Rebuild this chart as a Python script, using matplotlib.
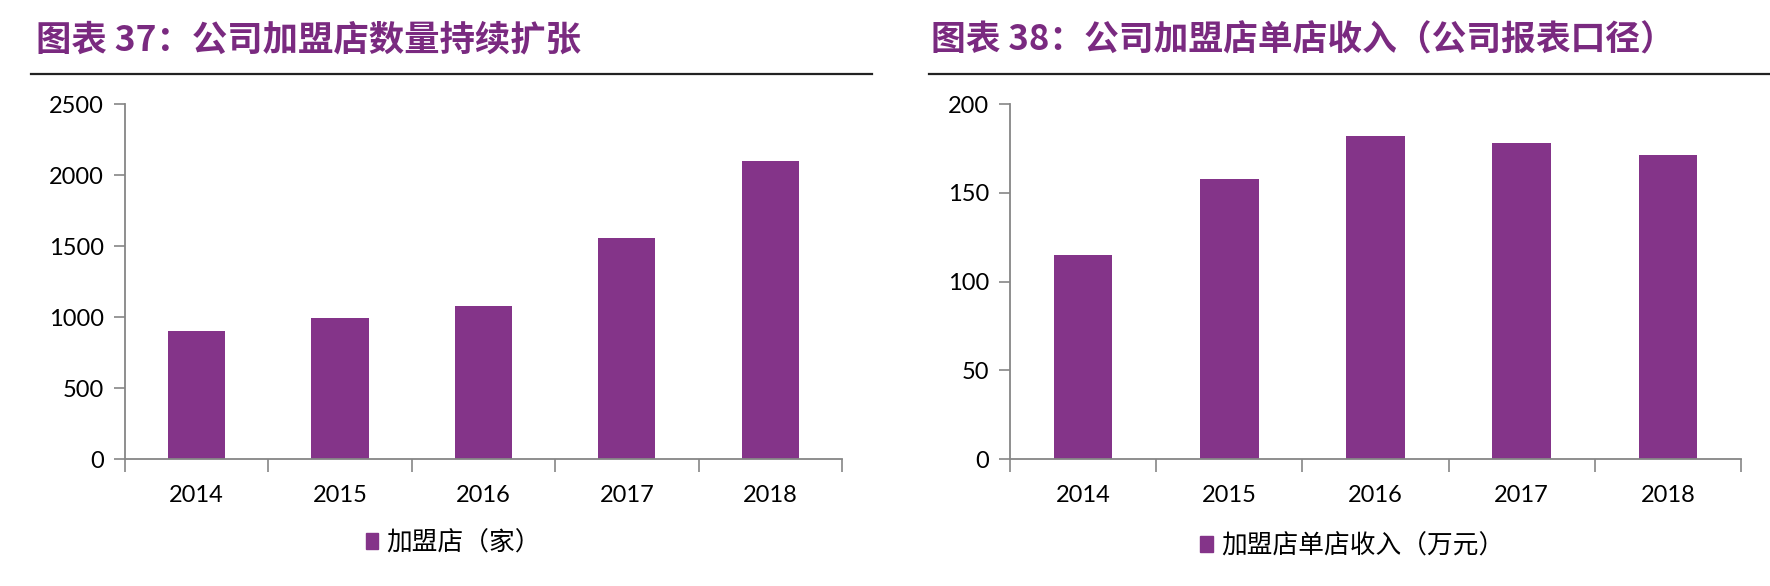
import matplotlib
matplotlib.use('Agg')
import matplotlib.pyplot as plt
from matplotlib.lines import Line2D
from matplotlib.patches import Patch

plt.rcParams['font.family'] = ['Lato', 'Noto Sans CJK SC', 'DejaVu Sans']

# data
years = ['2014', '2015', '2016', '2017', '2018']
stores = [900, 990, 1080, 1555, 2100]            # 加盟店（家）
revenue = [115, 158, 182, 178, 171]              # 加盟店单店收入（万元）

title_left = '图表 37：公司加盟店数量持续扩张'
title_right = '图表 38：公司加盟店单店收入（公司报表口径）'
legend_left = '加盟店（家）'
legend_right = '加盟店单店收入（万元）'
left_ticks = [0, 500, 1000, 1500, 2000, 2500]
right_ticks = [0, 50, 100, 150, 200]

purple = '#843489'
title_purple = '#7A2A80'
axis_gray = '#868686'
cjk = ['Noto Sans CJK SC', 'DejaVu Sans']

fig = plt.figure(figsize=(17.7, 5.86), dpi=100)


def bar_panel(rect, values, ticks, ymax):
  ax = fig.add_axes(rect)
  x = range(len(years))
  ax.bar(x, values, width=0.4, color=purple, zorder=2)
  ax.set_xlim(-0.5, len(years) - 0.5)
  ax.set_ylim(0, ymax)
  ax.set_yticks(ticks)
  ax.set_xticks(list(x))
  ax.set_xticklabels(years)
  # category boundary ticks like excel
  ax.set_xticks([i - 0.5 for i in range(len(years) + 1)], minor=True)
  ax.tick_params(axis='x', which='major', length=0, pad=19, labelsize=17)
  ax.tick_params(axis='x', which='minor', length=9, width=1.2, color=axis_gray, direction='out')
  ax.tick_params(axis='y', length=8, width=1.2, color=axis_gray, pad=7, labelsize=17)
  for s in ['top', 'right']:
    ax.spines[s].set_visible(False)
  for s in ['left', 'bottom']:
    ax.spines[s].set_color(axis_gray)
    ax.spines[s].set_linewidth(1.3)
  return ax


ax1 = bar_panel([0.0704, 0.2167, 0.4053, 0.6058], stores, left_ticks, 2500)
ax2 = bar_panel([0.5706, 0.2167, 0.4130, 0.6058], revenue, right_ticks, 200)

# titles and rule lines
fig.text(0.0203, 0.932, title_left, fontsize=25.5, fontweight='bold', color=title_purple,
         va='center', ha='left', family=cjk)
fig.text(0.526, 0.932, title_right, fontsize=25, fontweight='bold', color=title_purple,
         va='center', ha='left', family=cjk)
fig.add_artist(Line2D([0.0175, 0.4927], [0.874, 0.874], color='#222222', lw=1.6))
fig.add_artist(Line2D([0.5249, 1.0], [0.874, 0.874], color='#222222', lw=1.6))

# legends
for cx, cy, lab in [(0.256, 0.073, legend_left), (0.764, 0.068, legend_right)]:
  fig.legend(handles=[Patch(color=purple, label=lab)], loc='center', bbox_to_anchor=(cx, cy),
             frameon=False, handlelength=0.5, handleheight=0.6, handletextpad=0.3,
             prop={'family': cjk, 'size': 18.5})

fig.savefig('out.png', dpi=100)
